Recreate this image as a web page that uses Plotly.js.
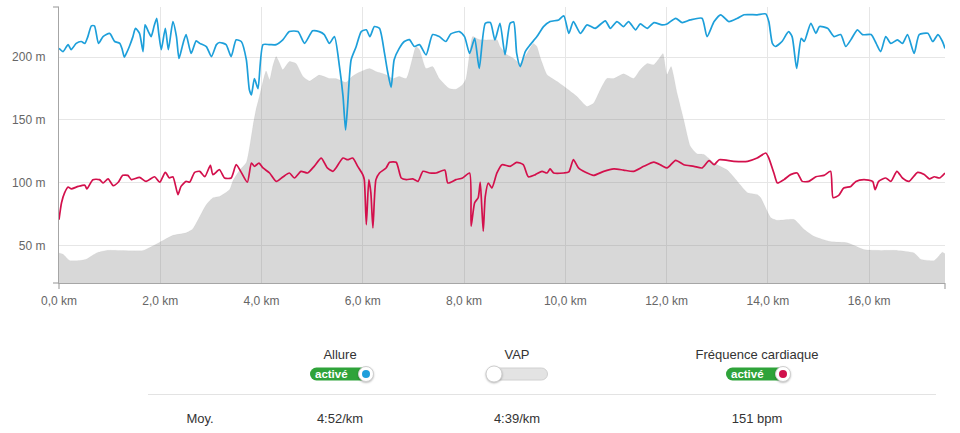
<!DOCTYPE html>
<html>
<head>
<meta charset="utf-8">
<script src="https://cdn.plot.ly/plotly-3.0.1.min.js"></script>
<style>
  html, body { margin: 0; padding: 0; background: #fff; width: 960px; height: 433px; overflow: hidden; }
  body { position: relative; font-family: "Liberation Sans", Arial, sans-serif; color: #333; }
  #chart { position: absolute; left: 0; top: 0; width: 960px; height: 433px; }
  .lbl { position: absolute; font-size: 13px; color: #333; transform: translate(-50%, -50%); white-space: nowrap; }
  .pill { position: absolute; height: 13px; border-radius: 7px; transform: translateY(-50%); box-sizing: border-box; }
  .pill.on { background: #2fa33a; }
  .pill.off { background: #e3e3e3; border: 1px solid #d0d0d0; }
  .pill .txt { position: absolute; left: 5px; top: -1px; font-size: 11.5px; font-weight: bold; color: #fff; line-height: 15px; }
  .knob { position: absolute; width: 16px; height: 16px; border-radius: 50%; background: #fff; border: 1px solid #cfcfcf;
          box-shadow: 0 1px 2px rgba(0,0,0,0.25); transform: translate(-50%, -50%); box-sizing: border-box; }
  .knob .dot { position: absolute; left: 50%; top: 50%; width: 8px; height: 8px; border-radius: 50%; transform: translate(-50%, -50%); }
  .sep { position: absolute; left: 148px; width: 788px; top: 394px; height: 1px; background: #e3e3e3; }
</style>
</head>
<body>
<div id="chart"></div>

<div class="lbl" style="left:340px; top:354px;">Allure</div>
<div class="pill on" style="left:310px; width:62px; top:374px;"><span class="txt">activé</span></div>
<div class="knob" style="left:366px; top:374px;"><div class="dot" style="background:#1f9fdb;"></div></div>

<div class="lbl" style="left:517px; top:354px;">VAP</div>
<div class="pill off" style="left:487px; width:61px; top:374px;"></div>
<div class="knob" style="left:494px; top:374px; width:17px; height:17px;"></div>

<div class="lbl" style="left:757px; top:354px;">Fréquence cardiaque</div>
<div class="pill on" style="left:726px; width:63px; top:374px;"><span class="txt">activé</span></div>
<div class="knob" style="left:783px; top:374px;"><div class="dot" style="background:#d0104c;"></div></div>

<div class="sep"></div>

<div class="lbl" style="left:200px; top:418px;">Moy.</div>
<div class="lbl" style="left:340px; top:418px;">4:52/km</div>
<div class="lbl" style="left:517px; top:418px;">4:39/km</div>
<div class="lbl" style="left:757px; top:418px;">151 bpm</div>

<script>
// Elevation profile (km, m)
const elevKm = [0.0,0.08,0.21,0.41,0.54,0.74,0.93,1.66,1.99,2.25,2.51,2.64,2.78,2.91,3.04,3.17,3.37,3.43,3.57,3.70,3.83,3.89,3.96,4.03,4.09,4.16,4.22,4.29,4.36,4.42,4.55,4.68,4.82,4.95,5.14,5.34,5.47,5.67,5.80,5.93,6.13,6.26,6.46,6.59,6.72,6.86,6.99,7.05,7.12,7.25,7.38,7.51,7.71,7.84,7.97,8.04,8.11,8.17,8.30,8.52,8.65,8.71,8.85,8.98,9.11,9.24,9.37,9.44,9.50,9.64,9.84,10.03,10.23,10.43,10.56,10.69,10.82,10.96,11.15,11.35,11.48,11.62,11.75,11.88,11.93,12.01,12.09,12.21,12.34,12.47,12.60,12.74,12.94,13.20,13.40,13.60,13.79,13.86,14.06,14.19,14.52,14.72,14.91,15.24,15.57,15.90,16.23,16.56,16.89,17.02,17.29,17.45,17.52];
const elevM = [44,43,38,38,39,44,46,46,52.5,58,60,63,73,82.5,88,89,94.5,101,110,116,145,158,169,181,189,182,192.5,200.5,195,190,196.5,195,184.6,181,185.7,183,183,180,185,188,191,188.6,186,183,184.6,183,200.5,208.5,206,191,192.5,183,175,174.5,178,183,203,216.4,214,213.8,214,208.5,202,199,195,203,211,208.5,200.5,186,180.6,175,168.7,160.7,163.4,174,183,183,186.7,183,190,195,194,200.5,203,186,192.5,171,150,129,123,122.5,115.6,110,101,92,90.5,88,72,70,70.6,62.6,57.3,53,52,46.7,46,46,44,39,38,44.5,42.6];

// Pace trace ("Allure"), plotted in chart units
const paceKm = [0.0,0.08,0.18,0.24,0.34,0.44,0.51,0.57,0.64,0.70,0.78,0.87,1.0,1.1,1.2,1.25,1.29,1.33,1.39,1.46,1.51,1.59,1.66,1.70,1.77,1.82,1.88,1.93,1.97,2.02,2.10,2.16,2.25,2.32,2.37,2.45,2.51,2.61,2.71,2.78,2.91,3.01,3.11,3.17,3.30,3.40,3.50,3.60,3.70,3.76,3.80,3.86,3.93,4.03,4.16,4.29,4.42,4.55,4.72,4.85,5.01,5.14,5.24,5.34,5.44,5.54,5.61,5.66,5.70,5.77,5.87,5.97,6.07,6.14,6.23,6.33,6.43,6.49,6.56,6.62,6.72,6.82,6.92,7.02,7.12,7.25,7.38,7.51,7.64,7.74,7.91,8.01,8.11,8.21,8.30,8.42,8.52,8.61,8.71,8.81,8.91,8.98,9.04,9.11,9.21,9.31,9.44,9.57,9.70,9.87,9.97,10.07,10.16,10.30,10.43,10.59,10.79,10.89,11.02,11.15,11.25,11.39,11.48,11.62,11.75,11.91,12.01,12.18,12.31,12.47,12.70,12.80,12.94,13.07,13.23,13.40,13.53,13.79,13.96,14.02,14.09,14.15,14.28,14.41,14.48,14.57,14.66,14.72,14.85,14.95,15.02,15.18,15.31,15.44,15.54,15.64,15.77,15.87,16.04,16.14,16.23,16.33,16.43,16.56,16.66,16.76,16.89,16.99,17.16,17.26,17.36,17.45,17.50];
const paceVal = [207,204.5,210,206,211,212.5,211,216.4,225,225,211,216.4,219,212.5,211,206,200,203,208.5,216.4,223,219,204.5,225.7,220,216.4,225,231,219,206,223,206,228.4,216.4,199,211,218,203,213,211,208.5,200.5,210,211.7,210,200.5,213.8,212.5,198,174,170,183,175,210,210,210,213.8,220.4,220.4,211,221,220.4,218,211,216.4,192.5,168.7,142,161,198,208.5,220.4,221.8,216.4,224.4,223,203,188.6,176,198,207,212.5,214,208.5,210,201.8,218,216.4,212.5,218.6,220.4,216.4,203,215,191,227,227.6,213.8,227,202,227,228,203,192.5,204.5,210,216.4,224.4,228.4,229.7,233,219,228.4,219,225.7,223,229,223,228.4,224.4,228.4,221.8,226.5,223,227.6,225.7,226.5,231,227.6,229.7,231,216.4,228.4,233.8,228.4,231,233.8,233.8,234.5,228.4,211,208.5,212.5,220.4,216.4,191,215,212.5,227,219,224.4,223,216.4,218,208.5,213.8,221.8,218,218,211,204.5,216.4,211,213.8,211,218,203,218,219,212.5,218,212.5,207];

// Heart rate trace ("Fréquence cardiaque"), plotted in chart units
const hrKm = [0.0,0.05,0.11,0.18,0.24,0.38,0.51,0.55,0.67,0.80,0.87,0.97,1.07,1.17,1.26,1.36,1.43,1.59,1.72,1.89,1.99,2.10,2.18,2.25,2.35,2.41,2.51,2.58,2.68,2.78,2.88,2.99,3.04,3.17,3.27,3.40,3.50,3.60,3.72,3.80,3.86,3.95,4.03,4.16,4.29,4.42,4.55,4.65,4.78,4.91,5.04,5.18,5.30,5.41,5.47,5.61,5.70,5.80,5.90,6.00,6.03,6.07,6.12,6.16,6.20,6.26,6.33,6.46,6.53,6.66,6.76,6.86,6.99,7.09,7.19,7.32,7.45,7.62,7.68,7.84,7.97,8.11,8.14,8.21,8.28,8.32,8.35,8.38,8.42,8.48,8.55,8.65,8.75,8.91,9.04,9.17,9.27,9.41,9.54,9.64,9.70,9.77,9.97,10.07,10.16,10.26,10.40,10.56,10.76,10.96,11.15,11.35,11.55,11.75,11.91,12.01,12.18,12.34,12.54,12.70,12.84,12.94,13.04,13.33,13.60,13.79,13.96,14.02,14.12,14.19,14.32,14.45,14.58,14.68,14.81,14.95,15.11,15.24,15.29,15.40,15.50,15.64,15.74,15.90,16.07,16.12,16.19,16.33,16.43,16.55,16.66,16.79,16.96,17.09,17.19,17.29,17.39,17.50];
const hrVal = [70.5,84,91.8,96.5,95,97,98,95,102.4,102.4,99.7,103,97.6,100.3,105.8,105.8,102.4,104.2,101,104.7,100.3,108.2,103.7,104.7,90.4,97,101,100.3,108.2,109,104.7,113.8,106.4,110.3,103.7,103.7,114.3,108.2,100.3,115.6,113,115.6,111.7,107.7,101,104.5,107.7,103.7,109,107.7,113,119.6,111.7,109,111.7,119.6,118.3,119.6,113,106.4,102.4,66.6,102.4,91.8,64,102.4,107.7,111.7,116.2,116.2,103.7,102.4,103,101,109,107.7,107.7,110,99.7,102.4,103.7,107.7,65.3,84,88,100.3,81.2,61.3,89,99.7,95.7,107.7,114.3,113,116.2,114.3,104.7,106.4,109,107.7,110.9,107.7,107.7,108.5,118.3,111.7,108.2,105.8,109,110.9,110,109,113,116.4,113.5,111.7,117.8,114.3,113,111.7,117.5,114.3,118.3,117,117,119.6,123.6,119.6,107.7,99.7,102.4,106.4,107.7,101,101,104.7,105.8,109,88,89.8,95.7,97,101,102.4,101,94.4,101,103.7,101,109,103.7,101,108.2,106.4,103,104.7,103.7,107.7];

const yTicks = [50, 100, 150, 200];
const xTicks = [0, 2, 4, 6, 8, 10, 12, 14, 16];
const yTickText = yTicks.map(v => v + ' m');
const xTickText = xTicks.map(v => v.toFixed(1).replace('.', ',') + ' km');

const traces = [
  { x: elevKm, y: elevM, type: 'scatter', mode: 'lines', fill: 'tozeroy',
    fillcolor: 'rgba(120,120,120,0.29)', line: { color: 'rgba(120,120,120,0.12)', width: 0.5, shape: 'spline', smoothing: 0.5 },
    hoverinfo: 'skip', name: 'Altitude' },
  { x: hrKm, y: hrVal, type: 'scatter', mode: 'lines',
    line: { color: '#d3104c', width: 1.7, shape: 'spline', smoothing: 0.6 }, name: 'Fréquence cardiaque' },
  { x: paceKm, y: paceVal, type: 'scatter', mode: 'lines',
    line: { color: '#1d9fda', width: 1.7, shape: 'spline', smoothing: 0.6 }, name: 'Allure' }
];

const axisGray = '#a6a6a6';
const layout = {
  width: 960, height: 433,
  margin: { l: 59, r: 15, t: 7, b: 149.5, pad: 0 },
  paper_bgcolor: 'rgba(0,0,0,0)', plot_bgcolor: 'rgba(0,0,0,0)',
  showlegend: false,
  font: { family: '"Liberation Sans", Arial, sans-serif', size: 12, color: '#666' },
  xaxis: {
    range: [0, 17.5], tickmode: 'array', tickvals: xTicks, ticktext: xTickText,
    showgrid: true, gridcolor: '#e6e6e6', gridwidth: 1,
    showline: true, linecolor: axisGray, linewidth: 1.2,
    zeroline: false, ticks: '', ticklabelstandoff: 6,
    tickfont: { size: 12, color: '#666' }, fixedrange: true
  },
  yaxis: {
    range: [20, 240], tickmode: 'array', tickvals: yTicks, ticktext: yTickText,
    showgrid: true, gridcolor: '#e6e6e6', gridwidth: 1,
    showline: true, linecolor: axisGray, linewidth: 1.2,
    zeroline: false, ticks: '', ticklabelstandoff: 10,
    tickfont: { size: 12, color: '#666' }, fixedrange: true
  },
  shapes: [
    { type: 'line', xref: 'paper', yref: 'paper', xsizemode: 'pixel', xanchor: 0, x0: -6, x1: 0, y0: 1, y1: 1,
      line: { color: axisGray, width: 1.2 } },
    { type: 'line', xref: 'paper', yref: 'paper', xsizemode: 'pixel', xanchor: 0, x0: -6, x1: 0, y0: 0, y1: 0,
      line: { color: axisGray, width: 1.2 } },
    { type: 'line', xref: 'paper', yref: 'paper', ysizemode: 'pixel', yanchor: 0, y0: -6, y1: 0, x0: 0, x1: 0,
      line: { color: axisGray, width: 1.2 } },
    { type: 'line', xref: 'paper', yref: 'paper', ysizemode: 'pixel', yanchor: 0, y0: -6, y1: 0, x0: 1, x1: 1,
      line: { color: axisGray, width: 1.2 } }
  ]
};

Plotly.newPlot('chart', traces, layout, { displayModeBar: false, staticPlot: true });
</script>
</body>
</html>
